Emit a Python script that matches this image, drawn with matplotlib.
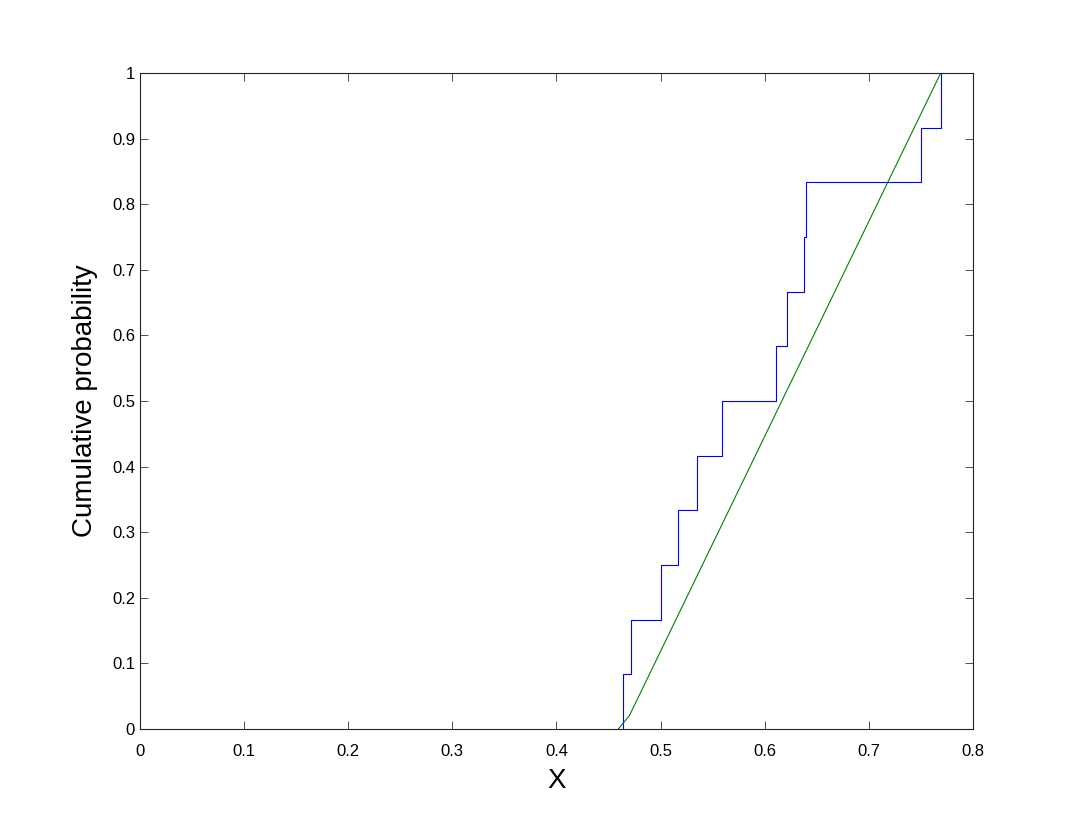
import matplotlib
matplotlib.use('Agg')
import matplotlib.pyplot as plt
import numpy as np

# empirical sample values (read from the step positions)
samples = [0.4638, 0.4716, 0.5004, 0.5167, 0.535, 0.5593,
           0.6108, 0.6217, 0.6377, 0.640, 0.750, 0.769]

# reference cdf line
ref_x = [0.4594, 0.470, 0.769]
ref_y = [0.0, 0.0203, 1.0]

x_ticks = [0, 0.1, 0.2, 0.3, 0.4, 0.5, 0.6, 0.7, 0.8]
y_ticks = [0, 0.1, 0.2, 0.3, 0.4, 0.5, 0.6, 0.7, 0.8, 0.9, 1]

plt.rcParams['font.family'] = ['Liberation Sans', 'DejaVu Sans']

fig = plt.figure(figsize=(10.75, 8.3), dpi=100)
ax = fig.add_axes([0.1302, 0.1217, 0.7749, 0.7903])

# build empirical cdf as stairs
xs = np.sort(samples)
n = len(xs)
step_x = np.repeat(xs, 2)
step_y = np.empty(2 * n)
step_y[0::2] = np.arange(n) / n
step_y[1::2] = np.arange(1, n + 1) / n
ax.plot(step_x, step_y, color=(0, 0, 1), linewidth=0.8)
ax.plot(ref_x, ref_y, color=(0, 0.5, 0), linewidth=0.8)

ax.set_xlim(0, 0.8)
ax.set_ylim(0, 1)
ax.set_xticks(x_ticks)
ax.set_xticklabels([f'{t:g}' for t in x_ticks])
ax.set_yticks(y_ticks)
ax.set_yticklabels([f'{t:g}' for t in y_ticks])
ax.tick_params(direction='in', top=True, right=True, length=6, width=0.6,
               labelsize=12, color='#333333')
ax.tick_params(axis='x', pad=11)
ax.tick_params(axis='y', pad=3.5)
for s in ax.spines.values():
    s.set_linewidth(0.8)
    s.set_color('#222222')

ax.set_xlabel('X', fontsize=20, labelpad=6)
ax.set_ylabel('Cumulative probability', fontsize=20, labelpad=10)

fig.savefig('out.png', dpi=100)
